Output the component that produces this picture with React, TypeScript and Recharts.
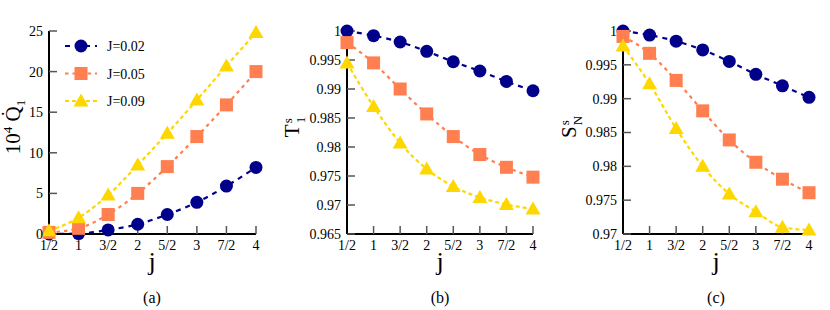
import React from 'react'
import { LineChart, Line, XAxis, YAxis, Legend } from 'recharts'

const jLabels = ['1/2', '1', '3/2', '2', '5/2', '3', '7/2', '4']
const seriesNames = ['J=0.02', 'J=0.05', 'J=0.09']

// panel (a): 10^4 Qdot_1
const q02 = [0, 0.05, 0.5, 1.2, 2.4, 3.9, 5.9, 8.2]
const q05 = [0.2, 0.7, 2.4, 5.0, 8.3, 12.0, 15.9, 20.0]
const q09 = [0.4, 2.0, 4.8, 8.5, 12.4, 16.5, 20.7, 24.8]
const qTicks = [0, 5, 10, 15, 20, 25]

// panel (b): T_1^s
const t02 = [1.0, 0.9992, 0.9981, 0.9965, 0.9947, 0.9931, 0.9913, 0.9897]
const t05 = [0.998, 0.9945, 0.99, 0.9857, 0.9818, 0.9787, 0.9765, 0.9748]
const t09 = [0.9945, 0.987, 0.9807, 0.9762, 0.9732, 0.9713, 0.9701, 0.9693]
const tTicks = [0.965, 0.97, 0.975, 0.98, 0.985, 0.99, 0.995, 1]

// panel (c): S_N^s
const s02 = [1.0, 0.9994, 0.9985, 0.9972, 0.9955, 0.9936, 0.9919, 0.9902]
const s05 = [0.9992, 0.9967, 0.9927, 0.9882, 0.9839, 0.9806, 0.9781, 0.9761]
const s09 = [0.9978, 0.9922, 0.9856, 0.98, 0.9759, 0.9733, 0.971, 0.9706]
const sTicks = [0.97, 0.975, 0.98, 0.985, 0.99, 0.995, 1]

const FONT = 'Liberation Serif, Times New Roman, Times, serif'
const styles = [
  { color: '#00008b', dash: '5 5', shape: 'circle' },
  { color: '#ff7f50', dash: '3.5 4', shape: 'square' },
  { color: '#ffd700', dash: '4 3', shape: 'triangle' },
]

function Marker({ cx, cy, shape, color }: any) {
  if (cx == null || cy == null) return null
  if (shape === 'circle') return <circle cx={cx} cy={cy} r={6.5} fill={color} />
  if (shape === 'square') return <rect x={cx - 6.5} y={cy - 6.5} width={13} height={13} fill={color} />
  return <polygon points={`${cx},${cy - 7.5} ${cx - 7.5},${cy + 5.5} ${cx + 7.5},${cy + 5.5}`} fill={color} />
}

function LegendBox() {
  return (
    <svg width={120} height={80} style={{ display: 'block' }}>
      {seriesNames.map((name, i) => (
        <g key={name} transform={`translate(0, ${i * 27.5})`}>
          <line x1={1} x2={33} y1={10} y2={10} stroke={styles[i].color} strokeWidth={2.2} strokeDasharray={styles[i].dash} />
          <Marker cx={17} cy={10} shape={styles[i].shape} color={styles[i].color} />
          <text x={43} y={15} fontSize={14} style={{ fontFamily: FONT }} fill="#000">{name}</text>
        </g>
      ))}
    </svg>
  )
}

const fmt = (v: number) => (v === 1 ? '1' : String(v))

function Panel({ left, width, mLeft, mRight, yWidth, series, domain, ticks, legend }: any) {
  const data = jLabels.map((j, i) => ({ j, s0: series[0][i], s1: series[1][i], s2: series[2][i] }))
  const axisLine = { stroke: '#000', strokeWidth: 2 }
  const tickLine = { stroke: '#555', strokeWidth: 1.5 }
  const tickStyle = { fontSize: 14, fill: '#000', style: { fontFamily: FONT } }
  return (
    <div style={{ position: 'absolute', left, top: 0, fontFamily: FONT }}>
      <LineChart width={width} height={310} data={data} margin={{ top: 31, right: mRight, left: mLeft, bottom: 46 }} style={{ fontFamily: FONT }}>
        <XAxis dataKey="j" type="category" height={30} axisLine={axisLine} tickLine={tickLine} tickSize={-8} tickMargin={14} tick={tickStyle} interval={0} />
        <XAxis xAxisId="top" dataKey="j" type="category" orientation="top" height={0} axisLine={axisLine} tickLine={tickLine} tickSize={-8} tickFormatter={() => ''} interval={0} />
        <YAxis domain={domain} ticks={ticks} type="number" width={yWidth} axisLine={axisLine} tickLine={tickLine} tickSize={-8} tickMargin={14} tick={tickStyle} tickFormatter={fmt} interval={0} />
        <YAxis yAxisId="r" orientation="right" domain={domain} ticks={ticks} type="number" width={0} axisLine={axisLine} tickLine={tickLine} tickSize={-8} tickFormatter={() => ''} interval={0} />
        {legend && (
          <Legend layout="vertical" align="center" verticalAlign="middle" content={() => <LegendBox />} wrapperStyle={{ left: 64, top: 36, width: 120 }} />
        )}
        {styles.map((st, i) => (
          <Line
            key={i}
            dataKey={`s${i}`}
            name={seriesNames[i]}
            type="monotone"
            stroke={st.color}
            strokeWidth={2.2}
            strokeDasharray={st.dash}
            isAnimationActive={false}
            dot={(p: any) => <Marker key={`${i}-${p.index}`} cx={p.cx} cy={p.cy} shape={st.shape} color={st.color} />}
            activeDot={false}
          />
        ))}
      </LineChart>
    </div>
  )
}

const textBase: React.CSSProperties = { position: 'absolute', fontFamily: FONT, color: '#000', lineHeight: 1, whiteSpace: 'nowrap' }

function XText({ cx, top, size, children }: any) {
  return <div style={{ ...textBase, left: cx, top, fontSize: size, transform: 'translateX(-50%)' }}>{children}</div>
}

function YText({ cx, cy, children }: any) {
  return (
    <div style={{ ...textBase, left: cx, top: cy, fontSize: 21, transform: 'translate(-50%, -50%) rotate(-90deg)' }}>{children}</div>
  )
}

function Stack({ sup, sub }: any) {
  return (
    <span style={{ display: 'inline-flex', flexDirection: 'column', fontSize: 13, lineHeight: 1, verticalAlign: 'middle', marginLeft: 1 }}>
      <span>{sup}</span>
      <span>{sub}</span>
    </span>
  )
}

export default function App() {
  return (
    <div style={{ position: 'absolute', left: 0, top: 0, width: 830, height: 310, background: '#fff', fontFamily: FONT }}>
      <Panel left={0} width={275} mLeft={4} mRight={19} yWidth={45} series={[q02, q05, q09]} domain={[0, 25]} ticks={qTicks} legend />
      <Panel left={280} width={270} mLeft={7} mRight={17} yWidth={60} series={[t02, t05, t09]} domain={[0.965, 1]} ticks={tTicks} />
      <Panel left={555} width={275} mLeft={8} mRight={21} yWidth={60} series={[s02, s05, s09]} domain={[0.97, 1]} ticks={sTicks} />

      <YText cx={14} cy={127}>
        10<sup style={{ fontSize: 13 }}>4</sup> Q&#775;<sub style={{ fontSize: 13 }}>1</sub>
      </YText>
      <YText cx={294} cy={127}>
        T<Stack sup="s" sub="1" />
      </YText>
      <YText cx={571} cy={127}>
        S<Stack sup="s" sub="N" />
      </YText>

      <XText cx={152} top={249} size={26}>j</XText>
      <XText cx={440} top={249} size={26}>j</XText>
      <XText cx={716} top={249} size={26}>j</XText>

      <XText cx={152} top={290} size={16}>(a)</XText>
      <XText cx={440} top={290} size={16}>(b)</XText>
      <XText cx={716} top={290} size={16}>(c)</XText>
    </div>
  )
}
